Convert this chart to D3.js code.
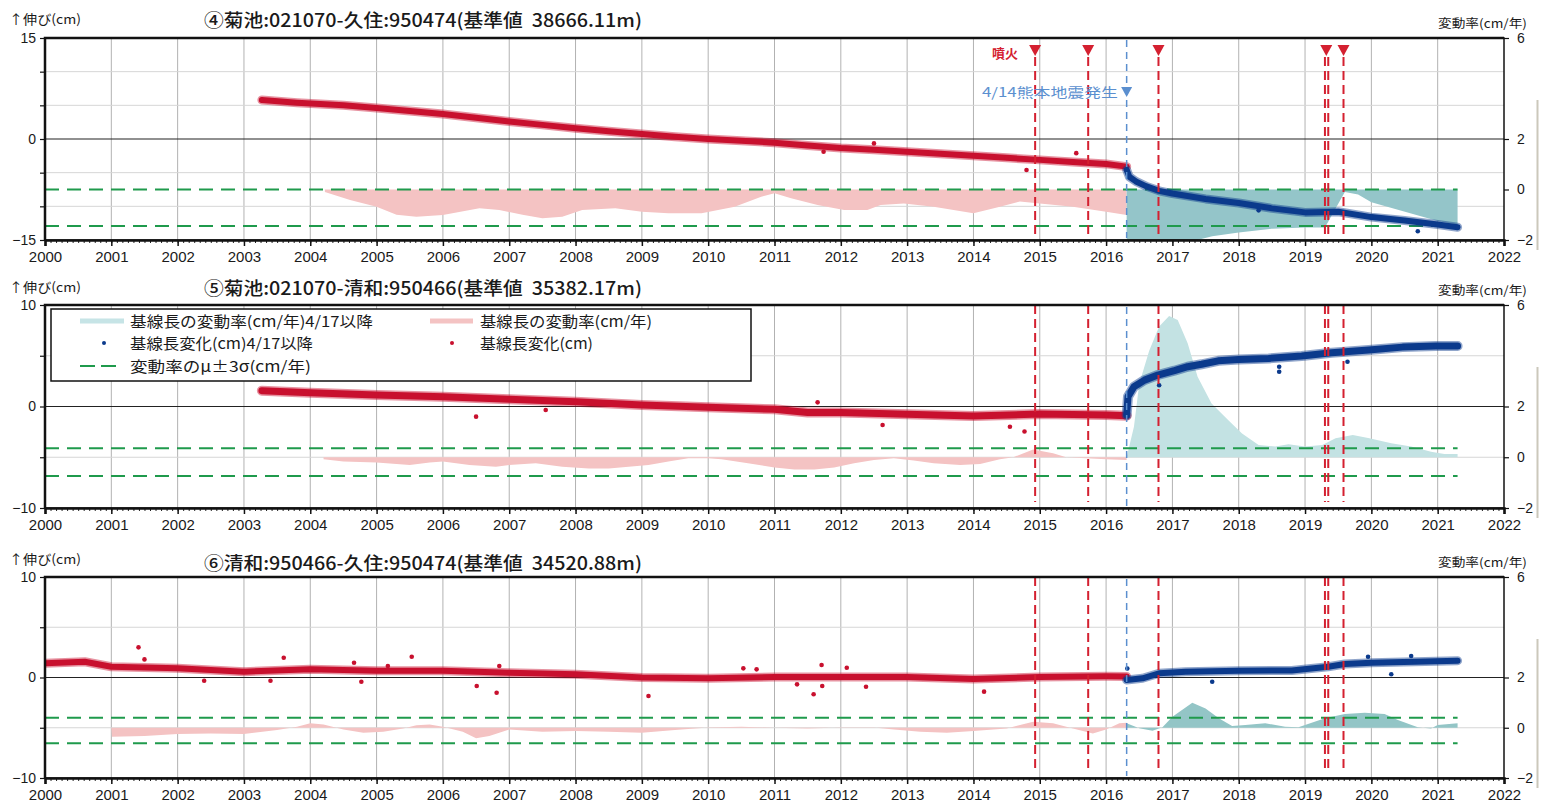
<!DOCTYPE html>
<html>
<head>
<meta charset="utf-8">
<script src="https://cdn.jsdelivr.net/npm/d3@7"></script>
<style>
  body { margin: 0; background: #fff; }
  svg { display: block; font-family: "Liberation Sans", Arial, sans-serif; }
  .jp { font-family: "Noto Sans CJK JP", "Noto Sans", sans-serif; white-space: pre; }
</style>
</head>
<body>
<svg id="chart" width="1541" height="805"></svg>
<script>
// ---- shared axis values and event dates ----
const yearTicks = d3.range(2000, 2023);
const eruptionDates = [2014.93, 2015.73, 2016.79, 2019.30, 2019.35, 2019.58];
const eruptionMarkers = [2014.93, 2015.73, 2016.79, 2019.32, 2019.58];
const quakeDate = 2016.31;
const rateTickLabels = [6, 2, 0, -2];

const titles = [
  "④菊池:021070-久住:950474(基準値  38666.11m)",
  "⑤菊池:021070-清和:950466(基準値  35382.17m)",
  "⑥清和:950466-久住:950474(基準値  34520.88m)"
];
const leftTickLabels = [[15, 0, -15], [10, 0, -10], [10, 0, -10]];
const legendLabels = [
  "基線長の変動率(cm/年)4/17以降",
  "基線長の変動率(cm/年)",
  "基線長変化(cm)4/17以降",
  "基線長変化(cm)",
  "変動率のμ±3σ(cm/年)"
];

// ---- ④ 菊池-久住 ----
const p4Change = [[2003.27,5.8],[2003.8,5.4],[2004.5,5.0],[2005,4.6],[2005.5,4.15],[2006,3.7],[2006.5,3.15],[2007,2.6],[2007.5,2.1],[2008,1.6],[2008.5,1.15],[2009,0.75],[2009.5,0.35],[2010,0.0],[2010.5,-0.25],[2011,-0.55],[2011.5,-0.95],[2012,-1.35],[2012.5,-1.6],[2013,-1.9],[2013.5,-2.2],[2014,-2.5],[2014.5,-2.8],[2015,-3.1],[2015.5,-3.4],[2016,-3.7],[2016.31,-4.1]];
const p4ChangeAfter = [[2016.31,-4.6],[2016.35,-5.6],[2016.45,-6.3],[2016.6,-7.0],[2016.8,-7.7],[2017,-8.1],[2017.5,-8.9],[2018,-9.5],[2018.5,-10.3],[2019,-10.9],[2019.5,-10.8],[2020,-11.6],[2020.5,-12.1],[2021,-12.7],[2021.3,-13.1]];
const p4Outliers = [[2011.74,-1.9],[2012.5,-0.65],[2014.8,-4.6],[2015.55,-2.1]];
const p4OutliersAfter = [[2020.7,-13.7],[2018.3,-10.6]];
const p4Rate = [[2004.22,-0.1],[2004.6,-0.42],[2005,-0.68],[2005.3,-1.0],[2005.6,-1.08],[2006,-1.01],[2006.55,-0.74],[2006.85,-0.81],[2007.2,-1.0],[2007.5,-1.14],[2007.8,-1.08],[2008.1,-0.81],[2008.6,-0.74],[2009,-0.88],[2009.4,-0.94],[2009.9,-0.94],[2010.4,-0.68],[2010.8,-0.29],[2011,-0.15],[2011.25,-0.35],[2011.65,-0.61],[2012.05,-0.81],[2012.4,-0.81],[2012.6,-0.61],[2012.95,-0.55],[2013.4,-0.68],[2014,-0.94],[2014.4,-0.68],[2014.7,-0.48],[2015,-0.55],[2015.5,-0.68],[2016,-0.88],[2016.31,-1.01]];
const p4RateAfter = [[2016.31,-3.0],[2017.3,-2.05],[2017.6,-1.85],[2018,-1.7],[2018.5,-1.55],[2019,-1.5],[2019.3,-1.5],[2019.45,-0.8],[2019.6,-0.1],[2019.8,-0.2],[2020,-0.5],[2020.2,-0.65],[2020.6,-0.95],[2021,-1.25],[2021.3,-1.4]];
const p4Sigma = [0.0, -1.45];

// ---- ⑤ 菊池-清和 ----
const p5Change = [[2003.27,1.56],[2004,1.36],[2005,1.13],[2006,0.97],[2007,0.71],[2008,0.47],[2009,0.15],[2010,-0.08],[2011,-0.28],[2011.5,-0.6],[2012,-0.6],[2013,-0.77],[2014,-0.94],[2015,-0.74],[2016,-0.84],[2016.31,-0.9]];
const p5ChangeAfter = [[2016.31,-0.85],[2016.33,0.97],[2016.42,1.95],[2016.58,2.6],[2016.78,3.1],[2017.03,3.53],[2017.23,3.92],[2017.44,4.16],[2017.69,4.5],[2018,4.62],[2018.45,4.74],[2018.95,4.97],[2019.4,5.3],[2019.96,5.57],[2020.47,5.85],[2020.97,5.96],[2021.3,5.96]];
const p5Outliers = [[2006.5,-1.0],[2007.55,-0.34],[2012.63,-1.82],[2014.55,-1.99],[2014.77,-2.46],[2011.65,0.41]];
const p5OutliersAfter = [[2018.61,3.92],[2018.61,3.43],[2019.64,4.41],[2016.8,2.1]];
const p5Rate = [[2004.2,-0.08],[2004.5,-0.17],[2005,-0.21],[2005.5,-0.31],[2005.8,-0.21],[2006,-0.17],[2006.4,-0.31],[2006.8,-0.37],[2007,-0.31],[2007.4,-0.24],[2007.8,-0.37],[2008.2,-0.44],[2008.5,-0.44],[2008.8,-0.37],[2009.1,-0.31],[2009.4,-0.17],[2009.7,-0.04],[2010,-0.04],[2010.2,-0.08],[2010.6,-0.24],[2011,-0.40],[2011.3,-0.48],[2011.6,-0.48],[2011.9,-0.40],[2012.2,-0.24],[2012.5,-0.11],[2012.8,-0.04],[2013.1,-0.13],[2013.4,-0.24],[2013.8,-0.31],[2014.1,-0.27],[2014.4,-0.08],[2014.6,0.0],[2014.9,0.31],[2015.2,0.16],[2015.4,0.0],[2015.7,-0.04],[2016,-0.08],[2016.31,-0.11]];
const p5RateAfter = [[2016.31,0.0],[2016.42,1.2],[2016.5,2.9],[2016.65,4.2],[2016.8,5.15],[2016.95,5.57],[2017.08,5.41],[2017.23,4.49],[2017.38,3.17],[2017.59,2.12],[2017.84,1.47],[2018.05,0.94],[2018.3,0.48],[2018.55,0.42],[2018.75,0.51],[2019,0.42],[2019.26,0.48],[2019.46,0.75],[2019.72,0.88],[2019.97,0.75],[2020.3,0.55],[2020.6,0.42],[2020.9,0.22],[2021.1,0.13],[2021.3,0.13]];
const p5Sigma = [0.35, -0.74];

// ---- ⑥ 清和-久住 ----
const p6Change = [[2000,1.41],[2000.6,1.57],[2001,1.07],[2002,0.92],[2003,0.58],[2004,0.82],[2005,0.68],[2006,0.68],[2007,0.48],[2008,0.32],[2009,0.0],[2010,-0.08],[2011,0.05],[2012,0.05],[2013,0.05],[2014,-0.15],[2015,0.05],[2016,0.12],[2016.31,0.1]];
const p6ChangeAfter = [[2016.31,-0.25],[2016.55,-0.08],[2016.8,0.42],[2017.2,0.58],[2018,0.68],[2018.8,0.7],[2019.35,1.07],[2019.6,1.34],[2020,1.47],[2020.65,1.57],[2021.3,1.67]];
const p6Outliers = [[2001.41,3.0],[2001.5,1.8],[2002.4,-0.32],[2003.6,1.97],[2003.4,-0.32],[2004.66,1.47],[2004.77,-0.42],[2005.17,1.14],[2005.53,2.07],[2006.51,-0.85],[2006.81,-1.51],[2006.85,1.14],[2009.1,-1.84],[2011.59,-1.67],[2011.71,1.24],[2011.72,-0.85],[2011.34,-0.68],[2012.09,0.97],[2012.38,-0.92],[2014.16,-1.41],[2010.53,0.91],[2010.73,0.81]];
const p6OutliersAfter = [[2016.32,0.9],[2017.6,-0.42],[2020.3,0.32],[2020.6,2.14],[2019.95,2.07]];
const p6Rate = [[2001,0],[2001.01,-0.36],[2001.5,-0.33],[2002,-0.25],[2002.5,-0.23],[2003,-0.25],[2003.5,-0.09],[2003.8,0.04],[2004,0.18],[2004.2,0.13],[2004.5,-0.07],[2004.8,-0.2],[2005.1,-0.16],[2005.4,-0.03],[2005.6,0.1],[2005.8,0.13],[2006,0.04],[2006.3,-0.16],[2006.5,-0.42],[2006.7,-0.33],[2007,-0.07],[2007.5,-0.16],[2008,-0.13],[2008.5,-0.16],[2009,-0.2],[2009.5,-0.09],[2009.8,-0.03],[2010,0.01],[2010.5,0.04],[2011,0],[2011.5,-0.03],[2012,0.01],[2012.5,0.01],[2012.8,-0.07],[2013.2,-0.16],[2013.6,-0.2],[2014,-0.13],[2014.5,-0.03],[2014.9,0.24],[2015.2,0.18],[2015.5,-0.03],[2015.8,-0.23],[2016,-0.07],[2016.2,0.18],[2016.31,0.2]];
const p6RateAfter = [[2016.31,0.18],[2016.5,-0.02],[2016.7,-0.12],[2016.85,0.02],[2017,0.44],[2017.3,1.0],[2017.5,0.77],[2017.7,0.38],[2017.9,0.07],[2018.1,0.11],[2018.4,0.18],[2018.7,0.04],[2018.9,0.02],[2019.1,0.2],[2019.3,0.38],[2019.6,0.55],[2019.9,0.6],[2020.2,0.55],[2020.4,0.31],[2020.7,0.02],[2020.9,-0.03],[2021,0.11],[2021.3,0.18]];
const p6Sigma = [0.40, -0.62];

// ---- colours ----
const RED = "#c8102e", NAVY = "#0b3a8c", PINK = "#f4c3c3", GREEN = "#1f9a4c";
const EVENT_RED = "#d42030", EVENT_BLUE = "#5b8fcf";

// ---- layout ----
const W = 1541, H = 805;
const x = d3.scaleLinear().domain([2000, 2022]).range([45, 1504]);
const panels = [
  { top: 38, bottom: 240, left: [-15, 15], change: p4Change, after: p4ChangeAfter, out: p4Outliers, outAfter: p4OutliersAfter,
    rate: p4Rate, rateAfter: p4RateAfter, sigma: p4Sigma, teal: "#94c5c9", band: 6,
    titleY: 27, upY: 24, eventTop: 57 },
  { top: 305, bottom: 508, left: [-10, 10], change: p5Change, after: p5ChangeAfter, out: p5Outliers, outAfter: p5OutliersAfter,
    rate: p5Rate, rateAfter: p5RateAfter, sigma: p5Sigma, teal: "#c3e2e3", band: 7,
    titleY: 295, upY: 292, eventTop: 305 },
  { top: 577, bottom: 778, left: [-10, 10], change: p6Change, after: p6ChangeAfter, out: p6Outliers, outAfter: p6OutliersAfter,
    rate: p6Rate, rateAfter: p6RateAfter, sigma: p6Sigma, teal: "#93c5c6", band: 6,
    titleY: 570, upY: 564, eventTop: 577 }
];

const svg = d3.select("#chart");
svg.append("rect").attr("width", W).attr("height", H).attr("fill", "#fff");
const defs = svg.append("defs");
const minus = v => String(v).replace("-", "\u2212");

panels.forEach((p, i) => {
  const yL = d3.scaleLinear().domain(p.left).range([p.bottom, p.top]);
  const yR = d3.scaleLinear().domain([-2, 6]).range([p.bottom, p.top]);
  const g = svg.append("g");
  const clipId = "plotclip" + i;
  defs.append("clipPath").attr("id", clipId).append("rect")
    .attr("x", x(2000)).attr("y", p.top).attr("width", x(2022) - x(2000)).attr("height", p.bottom - p.top);

  // grid
  g.append("g").selectAll("line").data(yearTicks.slice(1, -1)).join("line")
    .attr("x1", d => x(d)).attr("x2", d => x(d)).attr("y1", p.top).attr("y2", p.bottom)
    .attr("stroke", "#b2b2b2").attr("stroke-width", 1);
  const leftGrid = d3.range(p.left[0] + 5, p.left[1], 5).filter(v => v !== 0);
  g.append("g").selectAll("line").data(leftGrid).join("line")
    .attr("x1", x(2000)).attr("x2", x(2022)).attr("y1", d => yL(d)).attr("y2", d => yL(d))
    .attr("stroke", "#d6d6d6").attr("stroke-width", 1);

  const plot = g.append("g").attr("clip-path", `url(#${clipId})`);

  // rate areas (right axis), filled from 0
  const area = d3.area().x(d => x(d[0])).y0(yR(0)).y1(d => yR(d[1]));
  plot.append("path").datum(p.rate).attr("d", area).attr("fill", PINK);
  plot.append("path").datum(p.rateAfter).attr("d", area).attr("fill", p.teal);

  // μ±3σ
  plot.append("g").selectAll("line").data(p.sigma).join("line")
    .attr("x1", x(2000)).attr("x2", x(2021.3)).attr("y1", d => yR(d)).attr("y2", d => yR(d))
    .attr("stroke", GREEN).attr("stroke-width", 2).attr("stroke-dasharray", "14,8");

  // zero line
  plot.append("line").attr("x1", x(2000)).attr("x2", x(2022)).attr("y1", yL(0)).attr("y2", yL(0))
    .attr("stroke", "#222").attr("stroke-width", 1.2);

  // baseline-length change bands (dense daily solutions drawn as a thick trace)
  const line = d3.line().x(d => x(d[0])).y(d => yL(d[1]));
  [[p.change, p.out, RED], [p.after, p.outAfter, NAVY]].forEach(([pts, outs, col]) => {
    plot.append("path").datum(pts).attr("d", line).attr("fill", "none").attr("opacity", 0.45)
      .attr("stroke", col).attr("stroke-width", p.band + 3).attr("stroke-linejoin", "round").attr("stroke-linecap", "round");
    plot.append("path").datum(pts).attr("d", line).attr("fill", "none")
      .attr("stroke", col).attr("stroke-width", p.band).attr("stroke-linejoin", "round").attr("stroke-linecap", "round");
    plot.append("g").selectAll("circle").data(pts.concat(outs)).join("circle")
      .attr("cx", d => x(d[0])).attr("cy", d => yL(d[1])).attr("r", 2.3).attr("fill", col);
  });

  // event lines
  plot.append("g").selectAll("line").data(eruptionDates).join("line")
    .attr("x1", d => x(d)).attr("x2", d => x(d)).attr("y1", p.eventTop).attr("y2", p.bottom - 6)
    .attr("stroke", EVENT_RED).attr("stroke-width", 2).attr("stroke-dasharray", "9,5");
  plot.append("line").attr("x1", x(quakeDate)).attr("x2", x(quakeDate))
    .attr("y1", p.top + 2).attr("y2", p.bottom - 2)
    .attr("stroke", EVENT_BLUE).attr("stroke-width", 1.5).attr("stroke-dasharray", "7,5");

  // frame
  g.append("rect").attr("x", x(2000)).attr("y", p.top).attr("width", x(2022) - x(2000)).attr("height", p.bottom - p.top)
    .attr("fill", "none").attr("stroke", "#111").attr("stroke-width", 1.5);
  g.append("path").attr("d", `M${x(2000)},${p.bottom}V${p.top}H${x(2022)}`)
    .attr("fill", "none").attr("stroke", "#111").attr("stroke-width", 2.5);

  // bottom axis: years + monthly minor ticks
  const months = d3.range(2000, 2022, 1 / 12);
  g.append("g").attr("transform", `translate(0,${p.bottom})`)
    .call(d3.axisBottom(x).tickValues(months).tickSize(3).tickFormat(""))
    .call(a => a.select(".domain").remove())
    .call(a => a.selectAll("line").attr("stroke", "#222"));
  g.append("g").attr("transform", `translate(0,${p.bottom})`)
    .call(d3.axisBottom(x).tickValues(yearTicks).tickSize(6).tickPadding(5).tickFormat(d3.format("d")))
    .call(a => a.select(".domain").attr("stroke", "#111").attr("stroke-width", 2.5))
    .call(a => a.selectAll("line").attr("stroke", "#111").attr("stroke-width", 1.5))
    .call(a => a.selectAll("text").attr("font-size", 15).attr("fill", "#1a1a1a"));

  // left axis
  g.append("g").attr("transform", `translate(${x(2000)},0)`)
    .call(d3.axisLeft(yL).tickValues(d3.range(p.left[0], p.left[1] + 1, 5)).tickSize(5).tickPadding(4)
      .tickFormat(d => leftTickLabels[i].includes(d) ? minus(d) : ""))
    .call(a => a.select(".domain").remove())
    .call(a => a.selectAll("line").attr("stroke", "#111").attr("stroke-width", 1.2))
    .call(a => a.selectAll("text").attr("font-size", 14).attr("fill", "#1a1a1a"));

  // right axis (rate)
  g.append("g").attr("transform", `translate(${x(2022)},0)`)
    .call(d3.axisRight(yR).tickValues(rateTickLabels).tickSize(5).tickPadding(8).tickFormat(minus))
    .call(a => a.select(".domain").remove())
    .call(a => a.selectAll("line").attr("stroke", "#111").attr("stroke-width", 1.2))
    .call(a => a.selectAll("text").attr("font-size", 14).attr("fill", "#1a1a1a"));

  // texts
  g.append("text").attr("class", "jp").attr("x", 204).attr("y", p.titleY)
    .attr("font-size", 18).attr("font-weight", 500).attr("fill", "#1a1a1a")
    .attr("textLength", 438).attr("lengthAdjust", "spacingAndGlyphs").text(titles[i]);
  g.append("text").attr("class", "jp").attr("x", 9).attr("y", p.upY)
    .attr("font-size", 13).attr("fill", "#1a1a1a")
    .attr("textLength", 72).attr("lengthAdjust", "spacingAndGlyphs").text("↑伸び(cm)");
  g.append("text").attr("class", "jp").attr("x", 1438).attr("y", p.top - 10)
    .attr("font-size", 12).attr("fill", "#1a1a1a")
    .attr("textLength", 89).attr("lengthAdjust", "spacingAndGlyphs").text("変動率(cm/年)");

  // scan edge on the right margin
  g.append("line").attr("x1", 1537.5).attr("x2", 1537.5).attr("y1", p.top + 62).attr("y2", p.bottom + 10)
    .attr("stroke", "#a9a48e").attr("stroke-width", 2).attr("opacity", 0.6);

  if (i === 0) {
    // eruption and earthquake markers
    const tri = (cx, cy, w, h) => `M${cx - w / 2},${cy}L${cx + w / 2},${cy}L${cx},${cy + h}Z`;
    g.append("g").selectAll("path").data(eruptionMarkers).join("path")
      .attr("d", d => tri(x(d), 45, 12, 11)).attr("fill", EVENT_RED);
    g.append("text").attr("class", "jp").attr("x", 992).attr("y", 58).attr("font-size", 13)
      .attr("font-weight", "bold").attr("fill", EVENT_RED).text("噴火");
    g.append("path").attr("d", tri(x(quakeDate), 87, 11, 10)).attr("fill", EVENT_BLUE);
    g.append("text").attr("class", "jp").attr("x", 982).attr("y", 97).attr("font-size", 13)
      .attr("fill", EVENT_BLUE).attr("textLength", 136).attr("lengthAdjust", "spacingAndGlyphs")
      .text("4/14熊本地震発生");
  }

  if (i === 1) {
    // legend
    const lg = g.append("g");
    lg.append("rect").attr("x", 51).attr("y", 309).attr("width", 700).attr("height", 72)
      .attr("fill", "#fff").attr("stroke", "#111").attr("stroke-width", 1.5);
    const rows = [321, 343, 366];
    lg.append("line").attr("x1", 80).attr("x2", 124).attr("y1", rows[0]).attr("y2", rows[0])
      .attr("stroke", "#c6e4e6").attr("stroke-width", 5);
    lg.append("line").attr("x1", 430).attr("x2", 473).attr("y1", rows[0]).attr("y2", rows[0])
      .attr("stroke", PINK).attr("stroke-width", 5);
    lg.append("circle").attr("cx", 104).attr("cy", rows[1]).attr("r", 2).attr("fill", NAVY);
    lg.append("circle").attr("cx", 452).attr("cy", rows[1]).attr("r", 2).attr("fill", RED);
    lg.append("line").attr("x1", 80).attr("x2", 122).attr("y1", rows[2]).attr("y2", rows[2])
      .attr("stroke", GREEN).attr("stroke-width", 2).attr("stroke-dasharray", "15,6");
    const items = [[130, rows[0], 243], [480, rows[0], 172], [130, rows[1], 183], [480, rows[1], 113], [130, rows[2], 181]];
    lg.selectAll("text").data(items).join("text").attr("class", "jp")
      .attr("x", d => d[0]).attr("y", d => d[1] + 5.5).attr("font-size", 15).attr("fill", "#1a1a1a")
      .attr("textLength", d => d[2]).attr("lengthAdjust", "spacingAndGlyphs")
      .text((d, k) => legendLabels[k]);
  }
});
</script>
</body>
</html>
